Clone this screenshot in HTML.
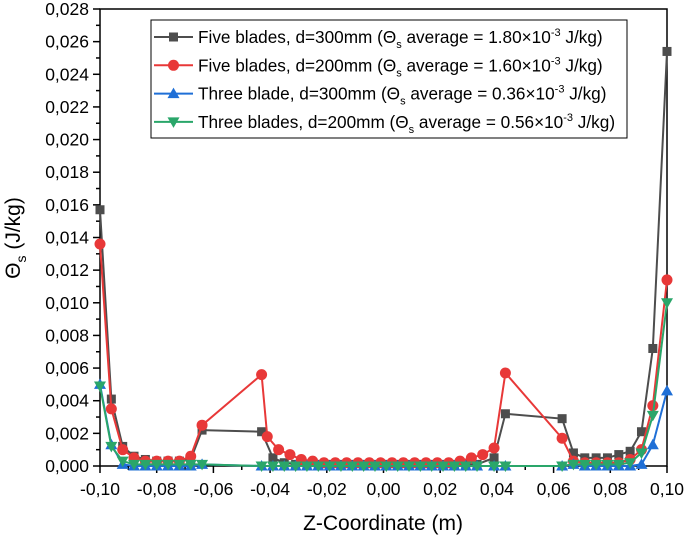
<!DOCTYPE html>
<html><head><meta charset="utf-8"><style>
body{margin:0;background:#fff}
svg{display:block;font-family:"Liberation Sans",Arial,sans-serif}
</style></head><body>
<svg id="c" width="685" height="539"></svg>
<script>
const xTicks=[-0.10,-0.08,-0.06,-0.04,-0.02,0.00,0.02,0.04,0.06,0.08,0.10];
const yTicks=[0,0.002,0.004,0.006,0.008,0.010,0.012,0.014,0.016,0.018,0.020,0.022,0.024,0.026,0.028];
const seriesNames=["Five blades, d=300mm","Five blades, d=200mm","Three blade, d=300mm","Three blades, d=200mm"];
const seriesAvg=["1.80","1.60","0.36","0.56"];
const xSquare=[-0.1,-0.096,-0.092,-0.088,-0.084,-0.08,-0.076,-0.072,-0.068,-0.064,-0.043,-0.039,-0.035,-0.031,-0.027,-0.023,-0.019,-0.015,-0.011,-0.007,-0.003,0.001,0.005,0.009,0.013,0.017,0.021,0.025,0.029,0.033,0.039,0.043,0.063,0.067,0.071,0.075,0.079,0.083,0.087,0.091,0.095,0.1];
const ySquare=[0.0157,0.0041,0.0012,0.0006,0.0004,0.0003,0.0003,0.0003,0.0004,0.0022,0.0021,0.0005,0.0002,0.0001,0.0001,0.0001,0.0001,0.0001,0.0001,0.0001,0.0001,0.0001,0.0001,0.0001,0.0001,0.0001,0.0001,0.0001,0.0001,0.0001,0.0005,0.0032,0.0029,0.0008,0.0005,0.0005,0.0005,0.0007,0.0009,0.0021,0.0072,0.0254];
const xCircle=[-0.1,-0.096,-0.092,-0.088,-0.084,-0.08,-0.076,-0.072,-0.068,-0.064,-0.043,-0.041,-0.037,-0.033,-0.029,-0.025,-0.021,-0.017,-0.013,-0.009,-0.005,-0.001,0.003,0.007,0.011,0.015,0.019,0.023,0.027,0.031,0.035,0.039,0.043,0.063,0.067,0.071,0.075,0.079,0.083,0.087,0.091,0.095,0.1];
const yCircle=[0.0136,0.0035,0.0010,0.0005,0.0003,0.0003,0.0003,0.0003,0.0006,0.0025,0.0056,0.0018,0.0010,0.0007,0.0004,0.0003,0.0002,0.0002,0.0002,0.0002,0.0002,0.0002,0.0002,0.0002,0.0002,0.0002,0.0002,0.0002,0.0003,0.0005,0.0007,0.0011,0.0057,0.0017,0.0003,0.0002,0.0002,0.0002,0.0002,0.0004,0.0010,0.0037,0.0114];
const xTri=[-0.1,-0.096,-0.092,-0.088,-0.084,-0.08,-0.076,-0.072,-0.068,-0.064,-0.043,-0.039,-0.035,-0.031,-0.027,-0.023,-0.019,-0.015,-0.011,-0.007,-0.003,0.001,0.005,0.009,0.013,0.017,0.021,0.025,0.029,0.033,0.039,0.043,0.063,0.067,0.071,0.075,0.079,0.083,0.087,0.091,0.095,0.1];
const yTri=[0.0050,0.0013,0.0001,0,0,0,0,0,0,0.0001,0,0,0,0,0,0,0,0,0,0,0,0,0,0,0,0,0,0,0,0,0,0,0,0.0001,0,0,0,0,0,0.0001,0.0013,0.0046];
const xInv=xTri;
const yInv=[0.0049,0.0012,0.0003,0.0001,0.0001,0.0001,0.0001,0.0001,0.0001,0.0001,0,0,0,0,0,0,0,0,0,0,0,0,0,0,0,0,0,0,0,0,0,0,0,0.0001,0.0001,0.0001,0.0001,0.0001,0.0002,0.0008,0.0031,0.0100];
const colors=["#4d4d4d","#e83838","#1f6fd6","#2aa66a"];
const markers=["square","circle","tri","inv"];
const XS=[xSquare,xCircle,xTri,xInv], YS=[ySquare,yCircle,yTri,yInv];
const L=100,R=667,T=9,B=466;
const sx=v=>L+(v+0.1)/0.2*(R-L);
const sy=v=>B-v/0.028*(B-T);
const svg=document.getElementById('c');const NS="http://www.w3.org/2000/svg";
function mk(t,a,p){const e=document.createElementNS(NS,t);for(const k in a)e.setAttribute(k,a[k]);(p||svg).appendChild(e);return e;}
function marker(type,x,y,c,g){
 let e;
 if(type==="square")e=mk('rect',{x:x-4.5,y:y-4.5,width:9,height:9,fill:c},g);
 else if(type==="circle")e=mk('circle',{cx:x,cy:y,r:5.5,fill:c},g);
 else if(type==="tri")e=mk('polygon',{points:`${x},${y-6} ${x-6},${y+4.5} ${x+6},${y+4.5}`,fill:c},g);
 else e=mk('polygon',{points:`${x},${y+6} ${x-6},${y-4.5} ${x+6},${y-4.5}`,fill:c},g);
 
 
}
const ax=mk('g',{});
mk('rect',{x:L,y:T,width:R-L,height:B-T,fill:'none',stroke:'#000','stroke-width':1.5},ax);
xTicks.forEach((v,i)=>{const x=sx(v);mk('line',{x1:x,x2:x,y1:B,y2:B+7,stroke:'#000','stroke-width':1.5},ax);
 if(i<xTicks.length-1){const xm=sx(v+0.01);mk('line',{x1:xm,x2:xm,y1:B,y2:B+4,stroke:'#000','stroke-width':1.5},ax);}
 const t=mk('text',{x:x,y:B+29,'text-anchor':'middle','font-size':17.5},ax);t.textContent=v.toFixed(2).replace('.',',');
 });
yTicks.forEach((v,i)=>{const y=sy(v);mk('line',{x1:L-7,x2:L,y1:y,y2:y,stroke:'#000','stroke-width':1.5},ax);
 if(i<yTicks.length-1){const ym=sy(v+0.001);mk('line',{x1:L-4,x2:L,y1:ym,y2:ym,stroke:'#000','stroke-width':1.5},ax);}
 const t=mk('text',{x:L-11,y:y+6,'text-anchor':'end','font-size':17.5},ax);t.textContent=v.toFixed(3).replace('.',',');
 });
const xt=mk('text',{x:383,y:530,'text-anchor':'middle','font-size':21});xt.innerHTML='Z-Coordinate (m)';

const yt=mk('text',{x:0,y:0,'text-anchor':'middle','font-size':21,transform:'translate(20,238) rotate(-90)'});
yt.innerHTML='Θ<tspan font-size="14" dy="6">s</tspan><tspan dy="-6"> (J/kg)</tspan>';

for(let s=0;s<4;s++){
 const g=mk('g',{});
 mk('polyline',{points:XS[s].map((x,i)=>sx(x)+','+sy(YS[s][i])).join(' '),fill:'none',stroke:colors[s],'stroke-width':2},g);
 XS[s].forEach((x,i)=>marker(markers[s],sx(x),sy(YS[s][i]),colors[s],g));
}
const lg=mk('g',{});
mk('rect',{x:151,y:20,width:476,height:118,fill:'#fff',stroke:'#000','stroke-width':1},lg);
for(let s=0;s<4;s++){
 const y=37+s*28.3;
 const e=mk('g',{},lg);
 mk('line',{x1:154,x2:193,y1:y,y2:y,stroke:colors[s],'stroke-width':2},e);
 marker(markers[s],173.5,y,colors[s],e);
 const t=mk('text',{x:198,y:y+6,'font-size':17.2},e);
 t.innerHTML=seriesNames[s]+' (Θ<tspan font-size="11" dy="5">s</tspan><tspan dy="-5"> average = '+seriesAvg[s]+'×10</tspan><tspan font-size="11" dy="-7">-3</tspan><tspan dy="7"> J/kg)</tspan>';
}
</script>
</body></html>
